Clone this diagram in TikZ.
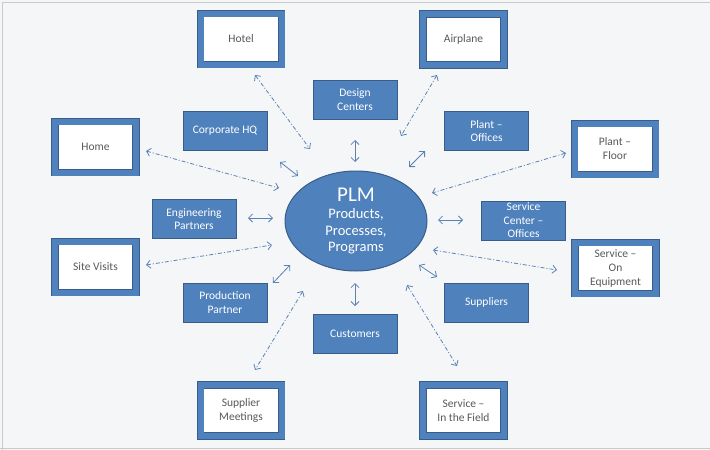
\documentclass[tikz,border=0pt]{standalone}
\usepackage{fontspec}
\setmainfont{Carlito}
\usetikzlibrary{shapes.geometric,arrows.meta}
\definecolor{bg}{HTML}{F5F6F7}
\definecolor{frame}{HTML}{C9CACB}
\definecolor{boxblue}{HTML}{4F81BD}
\definecolor{boxdark}{HTML}{385D8A}
\definecolor{arr}{HTML}{5B82B5}
\definecolor{txtgray}{HTML}{595959}
\tikzset{
  outerbox/.style={draw=boxdark, line width=0.6pt, double=boxblue, double distance=6pt,
    fill=white, minimum width=81pt, minimum height=51pt, inner sep=0pt, align=center,
    text=txtgray, font=\fontsize{11.5}{14}\selectfont},
  fillbox/.style={draw=boxdark, line width=1pt, fill=boxblue, minimum width=84pt,
    minimum height=39pt, inner sep=0pt, align=center, text=white,
    font=\fontsize{11.5}{13.5}\selectfont},
  plm/.style={ellipse, draw=boxdark, line width=1pt, fill=boxblue, minimum width=142pt,
    minimum height=100pt, inner sep=0pt, align=center, text=white,
    font=\fontsize{14.5}{16.5}\selectfont},
  solidarr/.style={draw=arr, line width=0.8pt, {Straight Barb[length=4pt,width=8pt]}-{Straight Barb[length=4pt,width=8pt]}},
  dasharr/.style={draw=arr, line width=0.8pt, dash pattern=on 4pt off 2pt on 1pt off 2pt,
    {Straight Barb[length=4pt,width=8pt]}-{Straight Barb[length=4pt,width=8pt]}}
}
\begin{document}
\begin{tikzpicture}[x=1pt,y=-1pt]
\fill[bg] (0,0) rectangle (710,450);
\useasboundingbox (0,0) rectangle (710,450);
\draw[frame, line width=1pt] (2,450) -- (2,2) -- (710,2);
\draw[frame, line width=1.5pt] (0,448.5) -- (710,448.5);

% outer boxes
\node[outerbox] (hotel) at (241,39) {Hotel};
\node[outerbox] (airplane) at (463.5,39.5) {Airplane};
\node[outerbox] (home) at (95.5,147) {Home};
\node[outerbox] (plantfloor) at (615,149) {Plant --\\Floor};
\node[outerbox] (sitevisits) at (95.5,267) {Site Visits};
\node[outerbox] (svcequip) at (615.5,268) {Service --\\On\\Equipment};
\node[outerbox] (supmeet) at (241,410.5) {Supplier\\Meetings};
\node[outerbox] (svcfield) at (463.5,410.5) {Service --\\In the Field};

% filled boxes
\node[fillbox] (corphq) at (225,131) {Corporate HQ};
\node[fillbox] (design) at (355,99.5) {Design\\Centers};
\node[fillbox] (plantoff) at (486.5,131) {Plant --\\Offices};
\node[fillbox] (engp) at (194,219) {Engineering\\Partners};
\node[fillbox] (svccenter) at (523.5,220.5) {Service\\Center --\\Offices};
\node[fillbox] (prodp) at (225,302.5) {Production\\Partner};
\node[fillbox] (customers) at (355,333.5) {Customers};
\node[fillbox] (suppliers) at (486.5,302.5) {Suppliers};

% center
\node[plm] (plm) at (356,221) {{\fontsize{21}{22}\selectfont PLM}\\[1pt]Products,\\Processes,\\Programs};

% solid arrow end points
\coordinate (c1a) at (280,162); \coordinate (c1b) at (298,176);
\coordinate (d1a) at (355,140); \coordinate (d1b) at (355,162);
\coordinate (p1a) at (409,167); \coordinate (p1b) at (425,151);
\coordinate (e1a) at (248,218); \coordinate (e1b) at (273,218);
\coordinate (s1a) at (438,220); \coordinate (s1b) at (463,220);
\coordinate (u1a) at (419,265); \coordinate (u1b) at (437,277);
\coordinate (m1a) at (355,283); \coordinate (m1b) at (355,306);
\coordinate (r1a) at (290,265); \coordinate (r1b) at (273,283);

\draw[solidarr] (c1a) -- (c1b);
\draw[solidarr] (d1a) -- (d1b);
\draw[solidarr] (p1a) -- (p1b);
\draw[solidarr] (e1a) -- (e1b);
\draw[solidarr] (s1a) -- (s1b);
\draw[solidarr] (u1a) -- (u1b);
\draw[solidarr] (m1a) -- (m1b);
\draw[solidarr] (r1a) -- (r1b);

% dash-dot arrow end points
\coordinate (h2a) at (255,75); \coordinate (h2b) at (310,149);
\coordinate (a2a) at (437,75); \coordinate (a2b) at (401,136);
\coordinate (o2a) at (146,151); \coordinate (o2b) at (279,188);
\coordinate (f2a) at (566,153); \coordinate (f2b) at (432,193);
\coordinate (v2a) at (146,265); \coordinate (v2b) at (272,245);
\coordinate (q2a) at (433,250); \coordinate (q2b) at (557,270);
\coordinate (g2a) at (303,291); \coordinate (g2b) at (255,370);
\coordinate (i2a) at (407,285); \coordinate (i2b) at (457,366);

\draw[dasharr] (h2a) -- (h2b);
\draw[dasharr] (a2a) -- (a2b);
\draw[dasharr] (o2a) -- (o2b);
\draw[dasharr] (f2a) -- (f2b);
\draw[dasharr] (v2a) -- (v2b);
\draw[dasharr] (q2a) -- (q2b);
\draw[dasharr] (g2a) -- (g2b);
\draw[dasharr] (i2a) -- (i2b);
\end{tikzpicture}
\end{document}
